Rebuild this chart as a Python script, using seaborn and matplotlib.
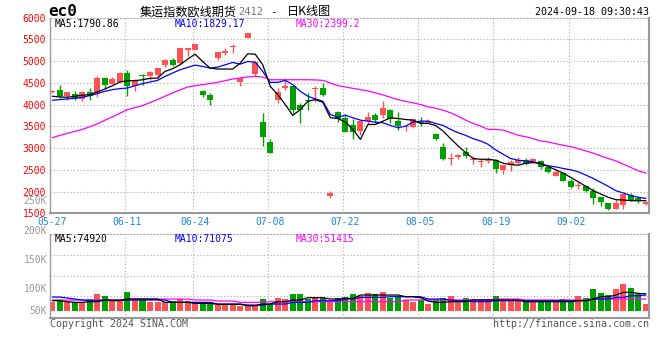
import numpy as np
import matplotlib
matplotlib.use("Agg")
import matplotlib.pyplot as plt
import seaborn as sns

# ---------------- data ----------------
dates = ["05-27", "06-11", "06-24", "07-08", "07-22", "08-05", "08-19", "09-02"]
date_idx = [0, 10, 19, 29, 39, 49, 59, 69]

opens = [4280, 4342, 4205, 4243, 4129, 4296, 4266, 4609, 4479, 4525,
         4730, 4418, 4685, 4662, 4685, 4913, 5027, 4951, 5256, 5256,
         4304, 4228, 5073, 5195, 5332, 4510, 5530, 4710, 3595, 3146,
         4098, 4380, 4418, 4000, 4113, 4357, 4380, 1905, 3824, 3695,
         3519, 3390, 3618, 3748, 3748, 3885, 3611, 3481, 3481, 3595,
         3580, 3329, 3032, 2742, 2796, 2910, 2720, 2674, 2697, 2727,
         2499, 2605, 2666, 2720, 2666, 2704, 2575, 2362, 2423, 2247,
         2118, 2118, 2019, 1874, 1737, 1600, 1691, 1927, 1843, 1707]
highs = [4345, 4456, 4290, 4311, 4300, 4388, 4647, 4612, 4639, 4753,
         4799, 4593, 4690, 4760, 4840, 5035, 5073, 5305, 5310, 5400,
         4327, 4266, 5215, 5294, 5393, 4615, 5652, 4990, 3809, 3200,
         4380, 4609, 4433, 4037, 4266, 4433, 4494, 2019, 3862, 3771,
         3656, 3625, 3839, 3809, 4091, 3900, 3824, 3510, 3670, 3717,
         3670, 3335, 3108, 2880, 2855, 3024, 2819, 2758, 2796, 2758,
         2615, 2720, 2803, 2765, 2780, 2720, 2605, 2491, 2453, 2278,
         2209, 2148, 2072, 1880, 1745, 1828, 1950, 1958, 1905, 1790]
lows = [4260, 4152, 4100, 4098, 4075, 4098, 4167, 4365, 4470, 4510,
        4190, 4319, 4456, 4570, 4586, 4852, 4880, 4940, 5104, 5250,
        4167, 3999, 5012, 5142, 5195, 4418, 5525, 4650, 3047, 2875,
        4037, 4342, 3809, 3565, 3885, 4052, 4190, 1851, 3595, 3360,
        3215, 3291, 3542, 3565, 3695, 3565, 3405, 3390, 3460, 3504,
        3565, 3184, 2727, 2621, 2758, 2781, 2643, 2567, 2651, 2423,
        2400, 2476, 2628, 2620, 2651, 2514, 2423, 2347, 2240, 2072,
        2057, 1996, 1714, 1676, 1585, 1590, 1600, 1790, 1737, 1691]
closes = [4320, 4190, 4281, 4129, 4296, 4190, 4609, 4456, 4586, 4730,
          4418, 4570, 4647, 4753, 4837, 5027, 4898, 5302, 5302, 5393,
          4228, 4114, 5210, 5233, 5347, 4609, 5637, 4980, 3260, 2880,
          4281, 4433, 3870, 3870, 4075, 4380, 4228, 1965, 3656, 3367,
          3367, 3618, 3717, 3641, 3923, 3672, 3504, 3504, 3656, 3570,
          3618, 3215, 2758, 2773, 2849, 2819, 2758, 2689, 2720, 2514,
          2605, 2681, 2735, 2643, 2758, 2567, 2438, 2438, 2247, 2095,
          2148, 2019, 1859, 1752, 1600, 1737, 1943, 1813, 1790, 1752]

ma5 = [4190, 4174, 4167, 4190, 4213, 4228, 4289, 4357, 4433, 4517,
       4548, 4548, 4570, 4601, 4609, 4761, 4822, 4913, 5043, 5157,
       4989, 4837, 4815, 4815, 4815, 4951, 5165, 5157, 4913, 4418,
       4228, 4000, 3748, 3885, 4075, 4113, 4052, 3695, 3679, 3595,
       3428, 3200, 3542, 3542, 3618, 3695, 3679, 3656, 3641, 3565,
       3565, 3519, 3390, 3215, 3047, 2895, 2758, 2742, 2742, 2720,
       2651, 2620, 2605, 2651, 2666, 2651, 2575, 2499, 2423, 2323,
       2224, 2118, 2019, 1943, 1866, 1813, 1806, 1790, 1790, 1790]
ma10 = [4098, 4113, 4129, 4144, 4167, 4205, 4251, 4304, 4342, 4365,
        4380, 4433, 4479, 4517, 4555, 4647, 4723, 4799, 4852, 4906,
        4875, 4837, 4860, 4913, 4967, 4928, 4989, 4974, 4761, 4510,
        4510, 4555, 4456, 4304, 4190, 4129, 4075, 3771, 3710, 3756,
        3695, 3641, 3618, 3595, 3580, 3519, 3466, 3504, 3595, 3618,
        3618, 3565, 3519, 3428, 3352, 3291, 3215, 3161, 3085, 2956,
        2857, 2758, 2720, 2704, 2681, 2628, 2590, 2567, 2529, 2499,
        2453, 2377, 2301, 2209, 2118, 2019, 1966, 1905, 1866, 1843]
ma30 = [3238, 3290, 3337, 3383, 3428, 3490, 3557, 3640, 3717, 3800,
        3885, 3930, 3976, 4045, 4113, 4190, 4266, 4335, 4403, 4433,
        4456, 4483, 4510, 4548, 4586, 4609, 4635, 4647, 4631, 4570,
        4570, 4570, 4570, 4570, 4570, 4565, 4555, 4494, 4433, 4403,
        4372, 4342, 4311, 4266, 4220, 4167, 4113, 4075, 4037, 4000,
        3946, 3915, 3870, 3809, 3733, 3641, 3565, 3504, 3428, 3428,
        3413, 3352, 3291, 3260, 3215, 3161, 3138, 3100, 3062, 3032,
        2986, 2933, 2880, 2819, 2758, 2704, 2628, 2552, 2476, 2423]

# volumes in thousands of lots
volume = [40.0, 44.5, 37.1, 40.0, 40.0, 51.9, 75.6, 66.7, 44.5, 44.5,
          84.5, 47.5, 47.5, 37.1, 40.0, 40.0, 44.5, 51.9, 44.5, 40.0,
          32.6, 37.1, 25.2, 25.2, 25.2, 22.2, 22.2, 22.2, 51.9, 28.2,
          57.8, 51.9, 75.6, 75.6, 51.9, 57.8, 57.8, 40.0, 57.8, 62.3,
          74.2, 66.7, 80.1, 74.2, 84.5, 57.8, 66.7, 47.5, 40.0, 47.5,
          29.7, 47.5, 57.8, 66.7, 40.0, 57.8, 51.9, 51.9, 51.9, 66.7,
          51.9, 47.5, 47.5, 47.5, 40.0, 40.0, 40.0, 40.0, 51.9, 47.5,
          66.7, 55.0, 95.0, 80.1, 69.7, 95.0, 117.0, 99.0, 74.0, 28.0]
vol_ma5 = [44.5, 44.5, 40.0, 37.1, 37.1, 40.0, 40.0, 47.5, 44.5, 44.5,
           51.9, 51.9, 51.9, 51.9, 51.9, 37.1, 37.1, 37.1, 37.1, 32.6,
           32.6, 32.6, 28.2, 28.2, 28.2, 28.2, 22.2, 22.2, 29.7, 29.7,
           40.0, 40.0, 47.5, 47.5, 57.8, 57.8, 57.8, 51.9, 51.9, 54.9,
           54.9, 69.7, 69.7, 69.7, 69.7, 69.7, 69.7, 62.3, 62.3, 57.8,
           43.0, 37.1, 37.1, 40.0, 40.0, 40.0, 47.5, 47.5, 47.5, 47.5,
           47.5, 47.5, 47.5, 40.0, 40.0, 40.0, 40.0, 40.0, 40.0, 40.0,
           44.5, 44.5, 51.9, 62.3, 62.3, 69.7, 81.6, 81.6, 77.1, 74.9]
vol_ma10 = [60.8, 60.8, 56.4, 51.9, 47.5, 44.5, 44.5, 47.5, 47.5, 47.5,
            47.5, 47.5, 47.5, 47.5, 47.5, 47.5, 37.1, 37.1, 37.1, 37.1,
            37.1, 37.1, 29.7, 29.7, 29.7, 29.7, 25.2, 25.2, 25.2, 29.7,
            29.7, 29.7, 37.1, 37.1, 37.1, 44.5, 44.5, 44.5, 44.5, 51.9,
            51.9, 59.3, 59.3, 59.3, 59.3, 62.3, 62.3, 62.3, 62.3, 62.3,
            51.9, 51.9, 51.9, 47.5, 44.5, 44.5, 40.0, 40.0, 40.0, 44.5,
            44.5, 44.5, 44.5, 44.5, 44.5, 44.5, 44.5, 44.5, 44.5, 44.5,
            44.5, 44.5, 51.9, 51.9, 51.9, 59.3, 59.3, 66.7, 66.7, 69.7]
vol_ma30 = [47.5, 47.5, 47.5, 47.5, 47.5, 47.5, 47.5, 47.5, 47.5, 47.5,
            51.9, 51.9, 51.9, 51.9, 51.9, 51.9, 51.9, 51.9, 51.9, 47.5,
            47.5, 47.5, 43.0, 43.0, 43.0, 37.1, 37.1, 37.1, 37.1, 40.0,
            40.0, 40.0, 40.0, 40.0, 40.0, 40.0, 40.0, 40.0, 40.0, 40.0,
            40.0, 40.0, 40.0, 40.0, 40.0, 40.0, 40.0, 47.5, 47.5, 47.5,
            47.5, 47.5, 47.5, 47.5, 47.5, 47.5, 47.5, 47.5, 47.5, 51.9,
            51.9, 51.9, 51.9, 47.5, 47.5, 47.5, 47.5, 47.5, 47.5, 47.5,
            47.5, 47.5, 51.9, 51.9, 51.9, 51.9, 51.9, 51.9, 51.9, 51.9]

price_ticks = [1500, 2000, 2500, 3000, 3500, 4000, 4500, 5000, 5500, 6000]
vol_tick_labels = ["250K", "200K", "150K", "100K", "50K"]
title_name = "集运指数欧线期货"
title_code = "2412"
title_tail = "日K线图"
symbol = "ec0"
timestamp = "2024-09-18 09:30:43"
ma_price_labels = ["MA5:1790.86", "MA10:1829.17", "MA30:2399.2"]
ma_vol_labels = ["MA5:74920", "MA10:71075", "MA30:51415"]

# ---------------- style ----------------
sns.set_style("white")
MONO = ["DejaVu Sans Mono", "Noto Sans CJK SC"]
CJK = ["Noto Sans CJK SC", "DejaVu Sans"]
plt.rcParams["font.family"] = MONO

RED = "#ff5252"
GREEN = "#00a000"
GRID = "#aaaaaa"
FRAME = "#999999"
BLUE = "#0000ff"
MAGENTA = "#ff00ff"
DATECOL = "#1a88d8"

W, H = 660, 360
fig = plt.figure(figsize=(6.6, 3.6), dpi=100)
fig.patch.set_facecolor("white")


def fx(px):
    return px / W


def fy(py):
    return 1 - py / H


L, R = 50.3, 649.3
ax = fig.add_axes([fx(L), fy(213.3), (R - L) / W, (213.3 - 17.5) / H])
axv = fig.add_axes([fx(L), fy(317.7), (R - L) / W, (317.7 - 234.3) / H])

n = len(closes)
x = np.arange(n)
o = np.array(opens, float)
c = np.array(closes, float)
hi = np.array(highs, float)
lo = np.array(lows, float)
up = c >= o
cols = [RED if u else GREEN for u in up]

XL = (-0.27, 79.44)

# ---------- price panel ----------
ax.vlines(x, lo, hi, colors=cols, lw=1.0, zorder=2)
body_bottom = np.minimum(o, c)
body_h = np.maximum(np.abs(c - o), 22)
ax.bar(x, body_h, bottom=body_bottom, width=0.8, color=cols, lw=0, zorder=2)

sns.lineplot(x=x, y=ma30, ax=ax, color=MAGENTA, lw=0.9, legend=False, zorder=3)
sns.lineplot(x=x, y=ma10, ax=ax, color=BLUE, lw=0.9, legend=False, zorder=3)
sns.lineplot(x=x, y=ma5, ax=ax, color="black", lw=0.9, legend=False, zorder=4)

ax.set_xlim(*XL)
ax.set_ylim(1500, 6000)
ax.set_yticks(price_ticks)
ax.set_yticklabels([str(t) for t in price_ticks])
ax.set_xticks(date_idx)
ax.set_xticklabels(dates)
ax.set_xlabel("")
ax.set_ylabel("")
ax.tick_params(axis="y", length=0, pad=3, labelsize=7, labelcolor="#ff0000")
ax.tick_params(axis="x", length=0, pad=3, labelsize=7, labelcolor=DATECOL)
for t in price_ticks[1:-1]:
    ax.axhline(t, color=GRID, lw=0.8, ls=(0, (1, 2)), zorder=0)
for d in date_idx[1:]:
    ax.axvline(d - 0.3, color=GRID, lw=0.8, ls=(0, (1, 2)), zorder=0)

# ---------- volume panel ----------
axv.bar(x, volume, width=0.8, color=cols, lw=0, zorder=2)
sns.lineplot(x=x, y=vol_ma30, ax=axv, color=MAGENTA, lw=0.9, legend=False, zorder=3)
sns.lineplot(x=x, y=vol_ma10, ax=axv, color=BLUE, lw=0.9, legend=False, zorder=3)
sns.lineplot(x=x, y=vol_ma5, ax=axv, color="black", lw=0.9, legend=False, zorder=4)
axv.set_xlim(*XL)
axv.set_ylim(-31.2, 340)
axv.set_xticks([])
axv.set_yticks([])
axv.set_xlabel("")
axv.set_ylabel("")
for f in (0.7518, 0.5036, 0.265):
    axv.plot([0, 1], [f, f], transform=axv.transAxes, color=GRID, lw=0.8,
             ls=(0, (1, 2)), zorder=0)
for d in date_idx[1:]:
    axv.axvline(d - 0.3, color=GRID, lw=0.8, ls=(0, (1, 2)), zorder=0)

for a in (ax, axv):
    a.set_facecolor("white")
    a.spines["top"].set_color(GRID)
    a.spines["top"].set_linestyle((0, (1, 2)))
    a.spines["top"].set_linewidth(0.8)
    a.spines["left"].set_color(FRAME)
    a.spines["left"].set_linestyle((0, (1, 1)))
    a.spines["left"].set_linewidth(1.0)
    a.spines["bottom"].set_color(FRAME)
    a.spines["bottom"].set_linewidth(1.5)
    a.spines["right"].set_color(FRAME)
    a.spines["right"].set_linewidth(1.5)

# volume labels (Sina's own odd positions)
for lab, py in zip(vol_tick_labels, [201.5, 231, 260, 289.3, 310.7]):
    fig.text(fx(47), fy(py), lab, ha="right", va="center", fontsize=7,
             color="#999999")

# ---------- header texts ----------
fig.text(fx(48), fy(12), symbol, ha="left", va="center", fontsize=11.5,
         fontweight="bold", color="black")
fig.text(fx(140), fy(12), title_name, ha="left", va="center", fontsize=8.7,
         family=CJK, color="black")
fig.text(fx(238), fy(12), title_code, ha="left", va="center", fontsize=7.5,
         color="#777777")
fig.text(fx(270), fy(12), "-", ha="left", va="center", fontsize=8,
         color="black")
fig.text(fx(287), fy(12), title_tail, ha="left", va="center", fontsize=8.7,
         family=CJK, color="black")
fig.text(fx(649), fy(12), timestamp, ha="right", va="center", fontsize=7.2,
         color="black")

for lab, px, col in zip(ma_price_labels, [55, 175, 296], ["black", BLUE, MAGENTA]):
    fig.text(fx(px), fy(24), lab, ha="left", va="center", fontsize=7, color=col)
for lab, px, col in zip(ma_vol_labels, [55, 175, 296], ["black", BLUE, MAGENTA]):
    fig.text(fx(px), fy(238.5), lab, ha="left", va="center", fontsize=7, color=col)

fig.text(fx(50), fy(324), "Copyright 2024 SINA.COM", ha="left", va="center",
         fontsize=7.2, color="#555555")
fig.text(fx(649), fy(324), "http://finance.sina.com.cn", ha="right",
         va="center", fontsize=7.2, color="#555555")

fig.savefig("out.png", dpi=100, facecolor="white")
